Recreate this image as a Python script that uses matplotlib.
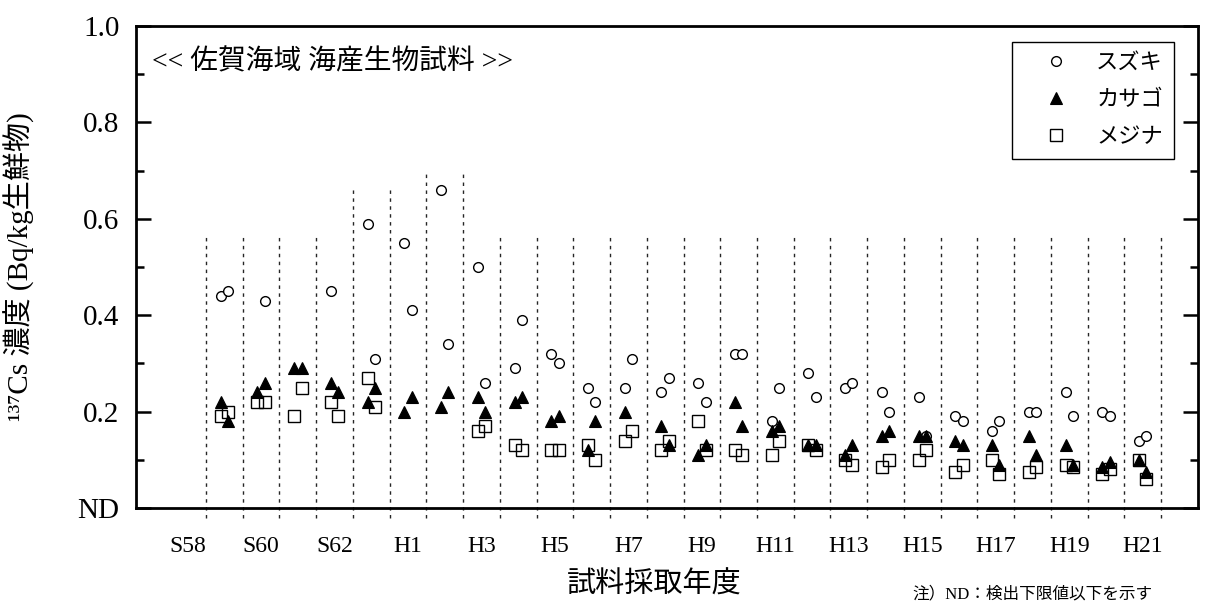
import numpy as np
import matplotlib
matplotlib.use("Agg")
import matplotlib.pyplot as plt
from matplotlib.ticker import MultipleLocator

plt.rcParams['font.family'] = ['Liberation Serif', 'DejaVu Serif', 'Noto Sans CJK JP']

# fiscal years, S58 .. H21
years = ["S58", "S59", "S60", "S61", "S62", "S63", "H1", "H2", "H3", "H4",
         "H5", "H6", "H7", "H8", "H9", "H10", "H11", "H12", "H13", "H14",
         "H15", "H16", "H17", "H18", "H19", "H20", "H21"]
shown_labels = years[::2]

nan = np.nan
# two samples per year: first (left) and second (right)
suzuki_1 = [nan, 0.44, nan, nan, 0.45, 0.59, 0.55, 0.66, 0.50, 0.29,
            0.32, 0.25, 0.25, 0.24, 0.26, 0.32, 0.18, 0.28, 0.25, 0.24,
            0.23, 0.19, 0.16, 0.20, 0.24, 0.20, 0.14]
suzuki_2 = [nan, 0.45, 0.43, nan, nan, 0.31, 0.41, 0.34, 0.26, 0.39,
            0.30, 0.22, 0.31, 0.27, 0.22, 0.32, 0.25, 0.23, 0.26, 0.20,
            0.15, 0.18, 0.18, 0.20, 0.19, 0.19, 0.15]
kasago_1 = [nan, 0.22, 0.24, 0.29, 0.26, 0.22, 0.20, 0.21, 0.23, 0.22,
            0.18, 0.12, 0.20, 0.17, 0.11, 0.22, 0.16, 0.13, 0.11, 0.15,
            0.15, 0.14, 0.13, 0.15, 0.13, 0.085, 0.10]
kasago_2 = [nan, 0.18, 0.26, 0.29, 0.24, 0.25, 0.23, 0.24, 0.20, 0.23,
            0.19, 0.18, nan, 0.13, 0.13, 0.17, 0.17, 0.13, 0.13, 0.16,
            0.15, 0.13, 0.09, 0.11, 0.09, 0.095, 0.075]
mejina_1 = [nan, 0.19, 0.22, 0.19, 0.22, 0.27, nan, nan, 0.16, 0.13,
            0.12, 0.13, 0.14, 0.12, 0.18, 0.12, 0.11, 0.13, 0.10, 0.085,
            0.10, 0.075, 0.10, 0.075, 0.09, 0.07, 0.10]
mejina_2 = [nan, 0.20, 0.22, 0.25, 0.19, 0.21, nan, nan, 0.17, 0.12,
            0.12, 0.10, 0.16, 0.14, 0.12, 0.11, 0.14, 0.12, 0.09, 0.10,
            0.12, 0.09, 0.07, 0.085, 0.085, 0.08, 0.06]

# height of the dashed year separators (after each year)
sep_top = [0.567] * 27
sep_top[4] = sep_top[5] = 0.665
sep_top[6] = sep_top[7] = 0.70

fig = plt.figure(figsize=(12.09, 6.04), dpi=100)
ax = fig.add_axes([136 / 1209, 96 / 604, 1062 / 1209, 482 / 604])

x = np.arange(len(years))
ax.vlines(x + 0.5, -0.02, sep_top, colors='0.15', linewidth=1.0,
          linestyles=(0, (2.5, 3.2)), clip_on=False, zorder=1)

off = 0.1
circ = dict(marker='o', ms=7, mfc='white', mec='black', mew=1.0, ls='none', zorder=3)
tri = dict(marker='^', ms=8, mfc='black', mec='black', mew=0.8, ls='none', zorder=3)
sq = dict(marker='s', ms=8, mfc='none', mec='black', mew=1.0, ls='none', zorder=3)

ax.plot(x - off, suzuki_1, label='スズキ', **circ)
ax.plot(x + off, suzuki_2, **circ)
ax.plot(x - off, kasago_1, label='カサゴ', **tri)
ax.plot(x + off, kasago_2, **tri)
ax.plot(x - off, mejina_1, label='メジナ', **sq)
ax.plot(x + off, mejina_2, **sq)

ax.set_xlim(-1.406, 27.507)
ax.set_ylim(0, 1.0)

ax.set_xticks(x[::2])
ax.set_xticklabels(shown_labels, fontsize=17)
ax.tick_params(axis='x', length=0, pad=20)

ax.set_yticks([0, 0.2, 0.4, 0.6, 0.8, 1.0])
ax.set_yticklabels(["ND", "0.2", "0.4", "0.6", "0.8", "1.0"], fontsize=21)
ax.yaxis.set_minor_locator(MultipleLocator(0.1))
ax.tick_params(axis='y', which='both', direction='in', left=True, right=True,
               width=1.8, pad=12)
ax.tick_params(axis='y', which='major', length=11)
ax.tick_params(axis='y', which='minor', length=6)

for s in ax.spines.values():
    s.set_linewidth(2.0)

ax.text(0.015, 0.925, "<< 佐賀海域 海産生物試料 >>", transform=ax.transAxes,
        fontsize=20, va='center', ha='left')

leg = ax.legend(loc='upper right', bbox_to_anchor=(1174 / 1209, 1 - 42 / 604),
                bbox_transform=fig.transFigure, borderaxespad=0, fontsize=16,
                numpoints=1, handlelength=3.0, handletextpad=0.3,
                labelspacing=0.75, borderpad=0.5, fancybox=False,
                edgecolor='black', framealpha=1)
leg.get_frame().set_linewidth(1.0)

fig.text(19 / 1209, 1 - 267 / 604, "¹³⁷Cs 濃度 (Bq/kg生鮮物)", rotation=90,
         fontsize=21, ha='center', va='center')
fig.text(654 / 1209, 1 - 585 / 604, "試料採取年度", fontsize=21,
         ha='center', va='center')
fig.text(912 / 1209, 1 - 586 / 604, "注）ND：検出下限値以下を示す", fontsize=12,
         ha='left', va='top')

fig.savefig("out.png", dpi=100)
